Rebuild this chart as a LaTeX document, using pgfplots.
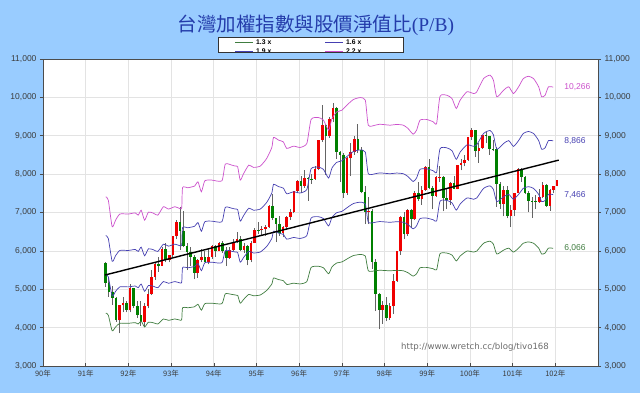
\documentclass[border=0pt]{standalone}
\usepackage{fontspec}
\setmainfont{Liberation Sans}
\newfontfamily\cjk{Noto Sans CJK TC}
\newfontfamily\serif{Liberation Serif}
\newfontfamily\dejavu{DejaVu Sans}
\usepackage{pgfplots}
\usepackage{pgfplotstable}
\pgfplotsset{compat=1.18}
\pgfkeys{/pgf/number format/.cd, 1000 sep={,}, assume math mode=true}
\definecolor{bgblue}{RGB}{153,204,255}
\definecolor{titleblue}{RGB}{36,60,170}
\definecolor{cmag}{RGB}{204,80,204}
\definecolor{cblue}{RGB}{70,64,178}
\definecolor{cgreen}{RGB}{64,125,64}
\definecolor{cred}{RGB}{240,0,0}
\definecolor{cdgreen}{RGB}{0,128,0}
\definecolor{wick}{RGB}{100,100,100}
\definecolor{ticktext}{RGB}{60,60,60}

\pgfplotstableread{
x o h l c
91.458 5675 5700 5070 5153
91.542 5153 5300 4800 4941
91.625 4941 5080 4600 4764
91.708 4764 4800 4150 4191
91.792 4191 4600 3850 4579
91.875 4579 4800 4400 4647
91.958 4647 4700 4400 4452
92.042 4452 5140 4400 5026
92.125 5026 5030 4500 4555
92.208 4555 4700 4250 4321
92.292 4321 4700 4050 4148
92.375 4148 4650 4044 4556
92.458 4556 5000 4500 4872
92.542 4872 5500 4850 5318
92.625 5318 5700 5250 5650
92.708 5650 5850 5450 5611
92.792 5611 6100 5600 6045
92.875 6045 6200 5700 5771
92.958 5771 5900 5700 5891
93.042 5891 6400 5850 6375
93.125 6375 6800 6300 6751
93.208 6751 7135 6020 6522
93.292 6522 7034 6100 6117
93.375 6117 6200 5500 5978
93.458 5978 6100 5600 5840
93.542 5840 5900 5260 5420
93.625 5420 5800 5300 5766
93.708 5766 6050 5700 5845
93.792 5845 6000 5700 5706
93.875 5706 6050 5650 5845
93.958 5845 6150 5800 6140
94.042 6140 6150 5850 5994
94.125 5994 6230 5990 6207
94.208 6207 6250 5950 6006
94.292 6006 6100 5600 5819
94.375 5819 6100 5800 6011
94.458 6011 6300 6000 6241
94.542 6241 6480 6200 6312
94.625 6312 6400 6000 6033
94.708 6033 6200 5950 6119
94.792 6119 6150 5620 5764
94.875 5764 6250 5700 6204
94.958 6204 6600 6200 6548
95.042 6548 6750 6450 6532
95.125 6532 6650 6400 6562
95.208 6562 6680 6400 6613
95.292 6613 7200 6600 7171
95.375 7171 7480 6800 6846
95.458 6846 6850 6230 6704
95.542 6704 6900 6400 6455
95.625 6455 6650 6350 6611
95.708 6611 6900 6550 6883
95.792 6883 7100 6800 7021
95.875 7021 7570 6980 7567
95.958 7567 7850 7500 7823
96.042 7823 7950 7500 7699
96.125 7699 8100 7650 7902
96.208 7902 7930 7300 7884
96.292 7884 8000 7750 7875
96.375 7875 8200 7850 8145
96.458 8145 8900 8100 8883
96.542 8883 9810 8850 9287
96.625 9287 9300 7980 8982
96.708 8982 9500 8950 9437
96.792 9437 9860 9350 9711
96.875 9711 9750 8400 8586
96.958 8586 8600 7800 8506
97.042 8506 8540 7380 7521
97.125 7521 8450 7450 8412
97.208 8412 8800 7950 8572
97.292 8572 9000 8500 8920
97.375 8920 9310 8550 8620
97.458 8620 8700 7500 7524
97.542 7524 7700 6700 7024
97.625 7024 7400 6700 7046
97.708 7046 7100 5530 5719
97.792 5719 5800 4430 4870
97.875 4870 4900 3955 4460
97.958 4460 4700 4100 4591
98.042 4591 4800 4164 4248
98.125 4248 4650 4200 4557
98.208 4557 5400 4350 5211
98.292 5211 6000 5200 5993
98.375 5993 6900 5900 6890
98.458 6890 7000 6300 6432
98.542 6432 7080 6400 7078
98.625 7078 7100 6600 6826
98.708 6826 7550 6800 7509
98.792 7509 7800 7300 7340
98.875 7340 7700 7200 7582
98.958 7582 8200 7550 8188
99.042 8188 8400 7600 7640
99.125 7640 7700 7080 7436
99.208 7436 7950 7400 7920
99.292 7920 8200 7800 7924
99.375 7924 7950 7030 7374
99.458 7374 7600 7100 7329
99.542 7329 7800 7200 7761
99.625 7761 7950 7600 7616
99.708 7616 8250 7600 8238
99.792 8238 8400 8100 8287
99.875 8287 8500 8200 8372
99.958 8372 8980 8350 8973
100.042 8973 9200 8900 9145
100.125 9145 9150 8450 8600
100.208 8600 8800 8300 8683
100.292 8683 9030 8650 9008
100.375 9008 9100 8800 8989
100.458 8989 9000 8500 8653
100.542 8653 8900 8600 8644
100.625 8644 8700 7150 7741
100.708 7741 7800 7100 7225
100.792 7225 7700 6900 7588
100.875 7588 7700 6850 6904
100.958 6904 7200 6620 7072
101.042 7072 7520 6900 7518
101.125 7518 8170 7500 8121
101.208 8121 8170 7800 7933
101.292 7933 7950 7480 7501
101.375 7501 7550 7000 7301
101.458 7301 7400 6860 7296
101.542 7296 7450 7100 7270
101.625 7270 7600 7250 7397
101.708 7397 7800 7370 7715
101.792 7715 7750 7150 7166
101.875 7166 7600 7050 7580
101.958 7580 7700 7500 7699
102.042 7699 7850 7680 7850
}\ohlc

\pgfplotstableread{
x b13 b16 b19 b22
91.47 4379 5389 6400 7410
91.53 4325 5324 6322 7320
91.62 3918 4822 5726 6630
91.70 4018 4945 5873 6800
91.80 4113 5062 6011 6960
92.00 4113 5062 6011 6960
92.16 4130 5084 6037 6990
92.23 4095 5040 5985 6930
92.30 4172 5135 6097 7060
92.38 4018 4945 5873 6800
92.47 4142 5098 6054 7010
92.59 4125 5076 6028 6980
92.69 4095 5040 5985 6930
92.82 4225 5200 6175 7150
92.94 4190 5156 6123 7090
93.09 4225 5200 6175 7150
93.21 4195 5164 6132 7100
93.25 4213 5185 6158 7130
93.27 4520 5564 6607 7650
93.39 4518 5560 6603 7645
93.55 4544 5593 6641 7690
93.63 4609 5673 6736 7800
93.71 4455 5484 6512 7540
93.79 4624 5691 6758 7825
93.95 4636 5705 6775 7845
94.19 4624 5691 6758 7825
94.27 4881 6007 7134 8260
94.42 4866 5989 7112 8235
94.50 4851 5971 7090 8210
94.56 4840 5956 7073 8190
94.62 4636 5705 6775 7845
94.70 4736 5829 6922 8015
94.82 4866 5989 7112 8235
94.93 4831 5945 7060 8175
95.09 4851 5971 7090 8210
95.24 4970 6116 7263 8410
95.36 5138 6324 7509 8695
95.40 5292 6513 7734 8955
95.52 5250 6462 7673 8885
95.63 5224 6429 7635 8840
95.71 5123 6305 7488 8670
95.87 5159 6349 7540 8730
96.02 5138 6324 7509 8695
96.18 5200 6400 7600 8800
96.28 5569 6855 8140 9425
96.45 5599 6891 8183 9475
96.57 5558 6840 8123 9405
96.69 5404 6651 7898 9145
96.77 5584 6873 8161 9450
96.88 5685 6996 8308 9620
97.00 5711 7029 8347 9665
97.16 5815 7156 8498 9840
97.27 5877 7233 8589 9945
97.43 5906 7269 8632 9995
97.55 5865 7218 8572 9925
97.62 5481 6745 8010 9275
97.78 5481 6745 8010 9275
97.89 5495 6764 8032 9300
98.13 5481 6745 8010 9275
98.28 5493 6760 8028 9295
98.44 5481 6745 8010 9275
98.55 5430 6684 7937 9190
98.67 5342 6575 7807 9040
98.75 5404 6651 7898 9145
98.83 5558 6840 8123 9405
98.98 5569 6855 8140 9425
99.14 5534 6811 8088 9365
99.22 5507 6778 8049 9320
99.30 5927 7295 8662 10030
99.46 5942 7313 8684 10055
99.58 5891 7251 8610 9970
99.68 5738 7062 8386 9710
99.77 5865 7218 8572 9925
99.93 5995 7378 8762 10145
100.09 5968 7345 8723 10100
100.16 5995 7378 8762 10145
100.32 6199 7629 9060 10490
100.47 6252 7695 9137 10580
100.55 6175 7600 9025 10450
100.63 5918 7284 8649 10015
100.79 6021 7411 8800 10190
100.91 6072 7473 8874 10275
101.02 5968 7345 8723 10100
101.14 6072 7473 8874 10275
101.25 6199 7629 9060 10490
101.37 6234 7673 9111 10550
101.49 6199 7629 9060 10490
101.61 6072 7473 8874 10275
101.68 5918 7284 8649 10015
101.76 5942 7313 8684 10055
101.84 6072 7473 8874 10275
101.95 6066 7466 8866 10266
}\bands

\begin{document}
\begin{tikzpicture}[x=1pt,y=1pt]
\fill[bgblue] (0,0) rectangle (640,393);

\begin{axis}[
  at={(43pt,27pt)}, anchor=south west,
  scale only axis, width=555pt, height=307pt,
  xmin=90, xmax=103, ymin=3000, ymax=11000,
  axis background/.style={fill=white},
  xtick={90,91,...,102},
  xticklabels={90年,91年,92年,93年,94年,95年,96年,97年,98年,99年,100年,101年,102年},
  ytick={3000,4000,...,11000},
  scaled y ticks=false,
  yticklabel={\pgfmathprintnumber[fixed,precision=0,1000 sep={,}]{\tick}},
  xtick pos=bottom, ytick pos=left,
  xtick align=inside, ytick align=outside,
  major tick length=3pt,
  tick style={draw=gray!60!black, line width=0.5pt},
  grid=major,
  grid style={draw=gray!22, line width=0.6pt},
  axis line style={draw=gray!60!black, line width=0.7pt},
  xticklabel style={font=\cjk\fontsize{7.5}{7.5}\selectfont, text=ticktext, yshift=-1pt},
  yticklabel style={font=\fontsize{8.5}{8.5}\selectfont, text=ticktext},
  clip=false,
]
% wicks
\addplot[draw=wick, line width=0.8pt, quiver={u=0, v=\thisrow{h}-\thisrow{l}}]
  table[x=x, y=l] {\ohlc};
% up bodies (red)
\addplot[draw=cred, line width=2.6pt, quiver={u=0, v=\thisrow{c}-\thisrow{o}},
  restrict expr to domain={\thisrow{c}-\thisrow{o}}{0:100000}]
  table[x=x, y=o] {\ohlc};
% down bodies (green)
\addplot[draw=cdgreen, line width=2.6pt, quiver={u=0, v=\thisrow{c}-\thisrow{o}},
  restrict expr to domain={\thisrow{c}-\thisrow{o}}{-100000:-0.5}]
  table[x=x, y=o] {\ohlc};
% P/B bands
\addplot[cgreen, line width=0.7pt, smooth, tension=0.35] table[x=x, y=b13] {\bands};
\addplot[cblue, line width=0.7pt, smooth, tension=0.35] table[x=x, y=b16] {\bands};
\addplot[cblue, line width=0.7pt, smooth, tension=0.35] table[x=x, y=b19] {\bands};
\addplot[cmag, line width=0.7pt, smooth, tension=0.35] table[x=x, y=b22] {\bands};
% trend line
\addplot[black, line width=1.4pt] coordinates {(91.45,5370) (102.08,8365)};
% end labels
\node[anchor=west, text=cmag, font=\fontsize{8.5}{8.5}\selectfont] at (axis cs:102.13,10266) {10,266};
\node[anchor=west, text=cblue, font=\fontsize{8.5}{8.5}\selectfont] at (axis cs:102.13,8866) {8,866};
\node[anchor=west, text=cblue, font=\fontsize{8.5}{8.5}\selectfont] at (axis cs:102.13,7466) {7,466};
\node[anchor=west, text=cgreen, font=\fontsize{8.5}{8.5}\selectfont] at (axis cs:102.13,6066) {6,066};
% watermark
\node[text=gray!85!black, font=\dejavu\fontsize{8.6}{8.6}\selectfont] at (axis cs:100.12,3480) {http://www.wretch.cc/blog/tivo168};
\end{axis}

\begin{axis}[
  at={(43pt,27pt)}, anchor=south west,
  scale only axis, width=555pt, height=307pt,
  xmin=90, xmax=103, ymin=3000, ymax=11000,
  hide x axis, axis y line*=right,
  ytick={3000,4000,...,11000},
  scaled y ticks=false,
  yticklabel={\pgfmathprintnumber[fixed,precision=0,1000 sep={,}]{\tick}},
  ytick align=outside, major tick length=3pt,
  tick style={draw=gray!60!black, line width=0.5pt},
  axis line style={draw=gray!60!black, line width=0.7pt},
  yticklabel style={font=\fontsize{8.5}{8.5}\selectfont, text=ticktext},
]
\addplot[draw=none] coordinates {(95,5000)};
\end{axis}
% top border of plot area
\draw[gray!60!black, line width=0.5pt] (43,334) -- (598,334);

% title
\node[text=titleblue, font=\cjk\fontsize{19.5}{20}\selectfont] at (316,368) {台灣加權指數與股價淨值比{\serif(P/B)}};

% legend (clipped like the original)
\fill[white] (218,341) rectangle (403,356);
\begin{scope}
\clip (218,341) rectangle (403,356);
\draw[cgreen, line width=0.8pt] (235,351) -- (253,351);
\node[anchor=west, inner sep=1pt, font=\bfseries\fontsize{6.8}{6.8}\selectfont] at (255,351) {1.3 x};
\draw[cblue, line width=0.8pt] (325,351) -- (343,351);
\node[anchor=west, inner sep=1pt, font=\bfseries\fontsize{6.8}{6.8}\selectfont] at (345,351) {1.6 x};
\draw[cblue, line width=0.8pt] (235,341.5) -- (253,341.5);
\node[anchor=west, inner sep=1pt, font=\bfseries\fontsize{6.8}{6.8}\selectfont] at (255,341.5) {1.9 x};
\draw[cmag, line width=0.8pt] (325,341.5) -- (343,341.5);
\node[anchor=west, inner sep=1pt, font=\bfseries\fontsize{6.8}{6.8}\selectfont] at (345,341.5) {2.2 x};
\end{scope}
\draw[black!80, line width=0.8pt] (218,341) rectangle (403,356);

\pgfresetboundingbox
\path (0,0) rectangle (640,393);
\end{tikzpicture}
\end{document}
